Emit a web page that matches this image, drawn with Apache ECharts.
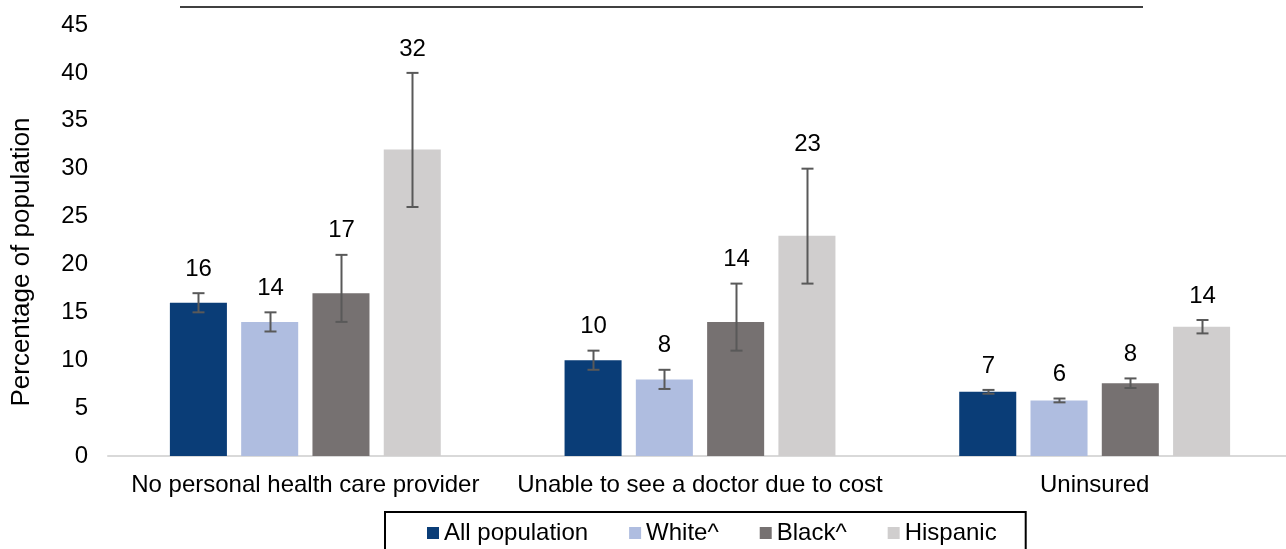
<!DOCTYPE html>
<html>
<head>
<meta charset="utf-8">
<script src="https://cdn.jsdelivr.net/npm/echarts@6/dist/echarts.min.js"></script>
<style>
html,body{margin:0;padding:0;background:#fff;overflow:hidden;}
#chart{width:1300px;height:549px;}
</style>
</head>
<body>
<div id="chart"></div>
<script>
// ---- data ----
var categories = ['No personal health care provider', 'Unable to see a doctor due to cost', 'Uninsured'];
var seriesNames = ['All population', 'White^', 'Black^', 'Hispanic'];
var allPopulation = [16, 10, 6.7];
var white = [14, 8, 5.8];
var black = [17, 14, 7.6];
var hispanic = [32, 23, 13.5];
var allPopulationLow = [15, 9, 6.5];
var allPopulationHigh = [17, 11, 6.9];
var whiteLow = [13, 7, 5.6];
var whiteHigh = [15, 9, 6.0];
var blackLow = [14, 11, 7.1];
var blackHigh = [21, 18, 8.1];
var hispanicLow = [26, 18, 12.8];
var hispanicHigh = [40, 30, 14.2];
var yTicks = [0, 5, 10, 15, 20, 25, 30, 35, 40, 45];

var values = [allPopulation, white, black, hispanic];
var lows = [allPopulationLow, whiteLow, blackLow, hispanicLow];
var highs = [allPopulationHigh, whiteHigh, blackHigh, hispanicHigh];
var colors = ['#0a3d77', '#afbde0', '#767171', '#d0cece'];

var FONT = 'Liberation Sans, Arial, sans-serif';
var FS = 24;
var BAR_W_PCT = 0.1445;
var BAR_GAP = 0.25;

var series = [];
for (var s = 0; s < 4; s++) {
  series.push({
    name: seriesNames[s],
    type: 'bar',
    data: values[s],
    barWidth: (BAR_W_PCT * 100) + '%',
    barGap: (BAR_GAP * 100) + '%',
    itemStyle: { color: colors[s] },
    z: 2
  });
}

// error bars + labels
for (var s2 = 0; s2 < 4; s2++) {
  (function (si) {
    var d = [];
    for (var c = 0; c < categories.length; c++) {
      d.push([c, lows[si][c], highs[si][c], values[si][c]]);
    }
    series.push({
      type: 'custom',
      name: seriesNames[si] + ' err',
      data: d,
      z: 5,
      silent: true,
      encode: { x: 0, y: [1, 2] },
      renderItem: function (params, api) {
        var ci = api.value(0);
        var band = api.size([1, 0])[0];
        var bw = band * BAR_W_PCT;
        var step = bw * (1 + BAR_GAP);
        var off = (si - 1.5) * step;
        var pLow = api.coord([ci, api.value(1)]);
        var pHigh = api.coord([ci, api.value(2)]);
        var x = Math.round(pLow[0] + off) + 0.5;
        var cap = 6;
        var st = { stroke: '#595959', lineWidth: 2 };
        return {
          type: 'group',
          children: [
            { type: 'line', shape: { x1: x, y1: pLow[1], x2: x, y2: pHigh[1] }, style: st },
            { type: 'line', shape: { x1: x - cap, y1: pLow[1], x2: x + cap, y2: pLow[1] }, style: st },
            { type: 'line', shape: { x1: x - cap, y1: pHigh[1], x2: x + cap, y2: pHigh[1] }, style: st },
            { type: 'text', x: x, y: pHigh[1] - 12,
              style: { text: String(Math.round(api.value(3))), fill: '#000', font: FS + 'px ' + FONT,
                       textAlign: 'center', textVerticalAlign: 'bottom' } }
          ]
        };
      }
    });
  })(s2);
}

var chart = echarts.init(document.getElementById('chart'), null, { renderer: 'canvas' });
chart.setOption({
  animation: false,
  backgroundColor: '#fff',
  textStyle: { fontFamily: FONT },
  grid: { left: 108, width: 1184, top: 25, bottom: 93, containLabel: false },
  legend: {
    data: seriesNames,
    left: 385,
    top: 512,
    padding: [9, 29, 12, 42],
    borderColor: '#000',
    borderWidth: 2,
    itemWidth: 12,
    itemHeight: 12,
    itemGap: 41,
    icon: 'rect',
    textStyle: { fontSize: FS, color: '#000', fontFamily: FONT },
    selectedMode: false
  },
  xAxis: {
    type: 'category',
    data: categories,
    axisTick: { show: false },
    axisLine: { lineStyle: { color: '#d9d9d9', width: 2 } },
    axisLabel: { fontSize: FS, color: '#000', margin: 17, fontFamily: FONT, interval: 0 }
  },
  yAxis: {
    type: 'value',
    min: yTicks[0],
    max: yTicks[yTicks.length - 1],
    interval: yTicks[1] - yTicks[0],
    axisLine: { show: false },
    axisTick: { show: false },
    splitLine: { show: false },
    axisLabel: { fontSize: FS, color: '#000', margin: 20, fontFamily: FONT }
  },
  graphic: [
    { type: 'line', shape: { x1: 180, y1: 7, x2: 1143, y2: 7 }, style: { stroke: '#404040', lineWidth: 2 } },
    { type: 'text', x: 22, y: 262, rotation: Math.PI / 2,
      style: { text: 'Percentage of population', fill: '#000', font: '26px ' + FONT,
               textAlign: 'center', textVerticalAlign: 'middle' } }
  ],
  series: series
});
</script>
</body>
</html>
